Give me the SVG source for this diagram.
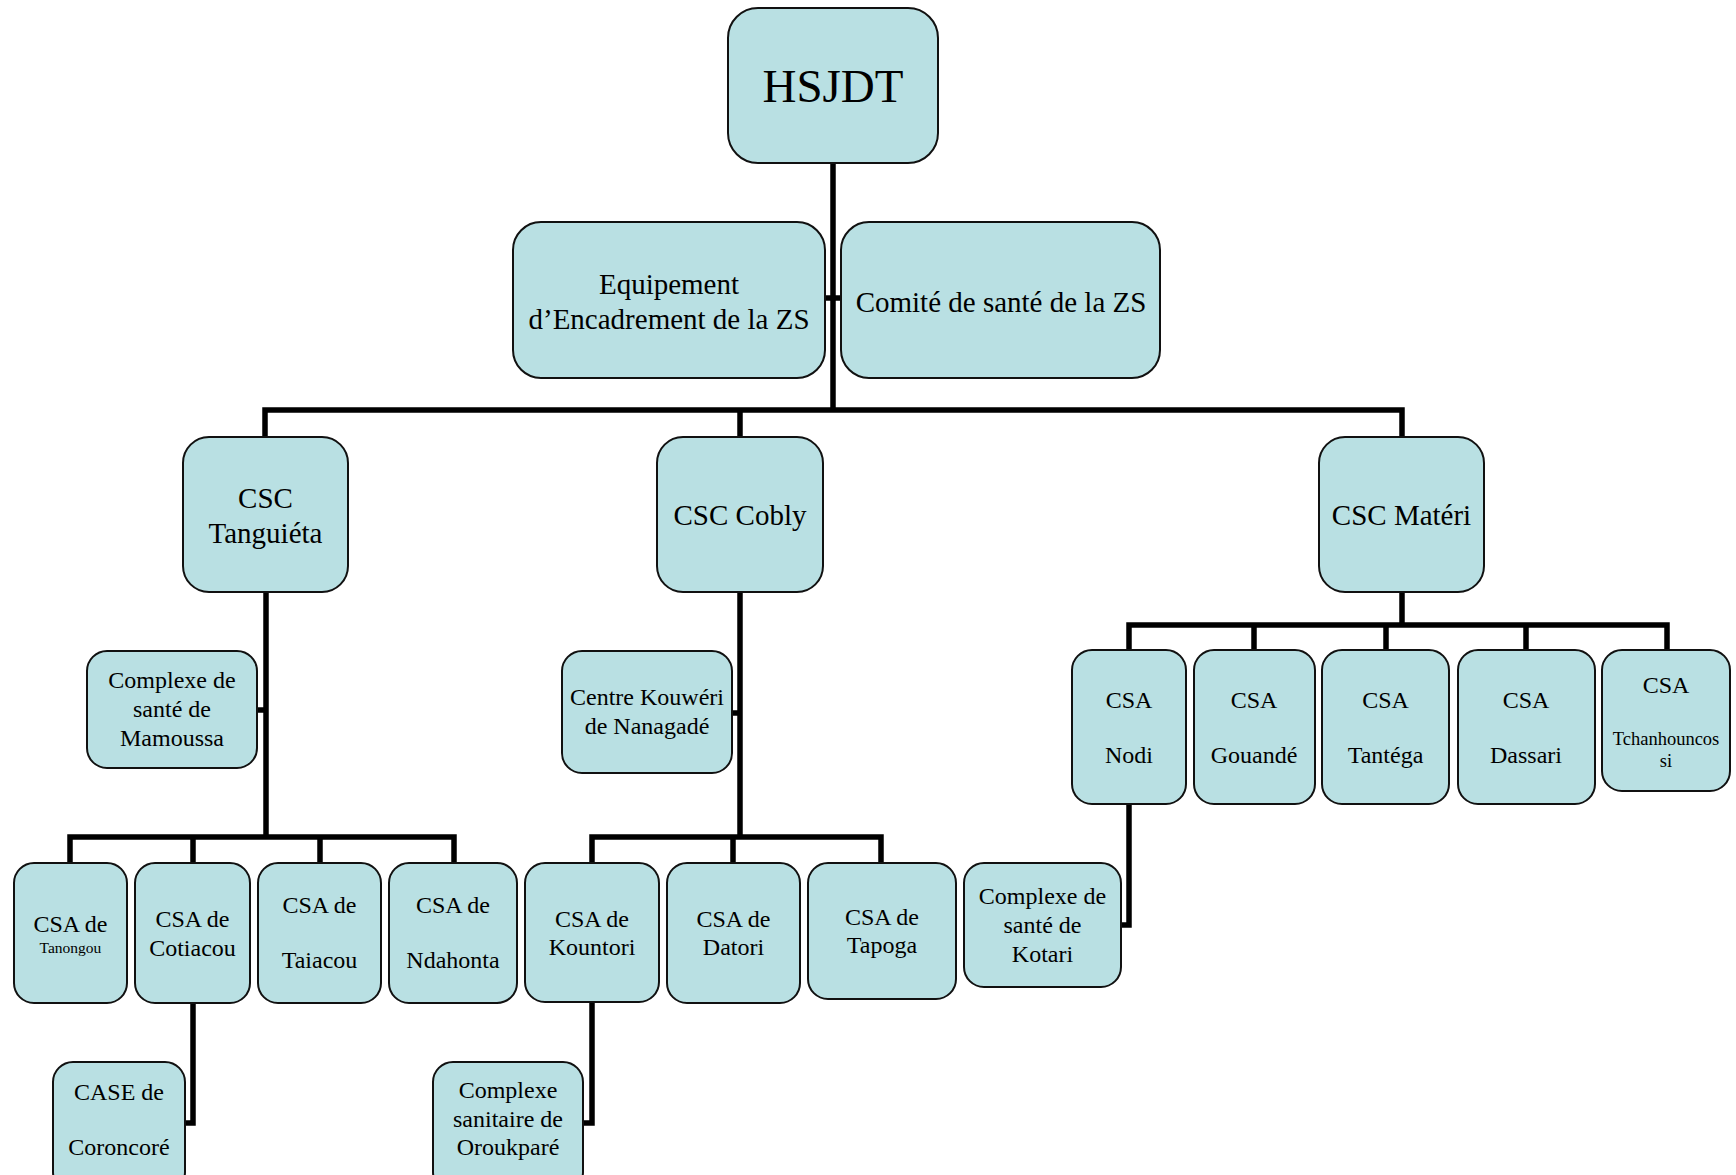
<svg xmlns="http://www.w3.org/2000/svg" width="1736" height="1175" viewBox="0 0 1736 1175">
<style>
.box{fill:#B9E0E3;stroke:#111;stroke-width:2}
.t{font-family:"Liberation Serif","Times New Roman",serif;fill:#000;text-anchor:middle}
.f29{font-size:29px}
.f24{font-size:24px}
.f18{font-size:18.5px}
.f15{font-size:15.5px}
.c{fill:none;stroke:#000;stroke-width:5.5;stroke-linecap:square;stroke-linejoin:miter}
</style>
<rect width="1736" height="1175" fill="#fff"/>
<g id="connectors">
<path class="c" d="M833 163V410M265 437V410H1402V437M740 410V437"/>
<path class="c" d="M826 298H841"/>
<path class="c" d="M266 592V837M70 863V837H454V863M193 837V863M320 837V863M258 710H266"/>
<path class="c" d="M193 1003V1123H186"/>
<path class="c" d="M740 592V837M592 863V837H881V863M733 837V863M733 713H740"/>
<path class="c" d="M592 1002V1123H584"/>
<path class="c" d="M1402 592V625M1129 650V625H1667V650M1254 625V650M1386 625V650M1526 625V650"/>
<path class="c" d="M1129 804V925H1121"/>
</g>
<g id="hsjdt"><rect class="box" x="728" y="8" width="210" height="155" rx="30"/><text class="t" x="833" y="102" font-size="47">HSJDT</text></g>
<g id="equipement"><rect class="box" x="513" y="222" width="312" height="156" rx="28"/><text class="t f29" x="669" y="294">Equipement</text><text class="t f29" x="669" y="329">d’Encadrement de la ZS</text></g>
<g id="comite"><rect class="box" x="841" y="222" width="319" height="156" rx="28"/><text class="t f29" x="1001" y="312">Comité de santé de la ZS</text></g>
<g id="csc-tanguieta"><rect class="box" x="183" y="437" width="165" height="155" rx="26"/><text class="t f29" x="265.5" y="508">CSC</text><text class="t f29" x="265.5" y="543">Tanguiéta</text></g>
<g id="csc-cobly"><rect class="box" x="657" y="437" width="166" height="155" rx="26"/><text class="t f29" x="740" y="525">CSC Cobly</text></g>
<g id="csc-materi"><rect class="box" x="1319" y="437" width="165" height="155" rx="26"/><text class="t f29" x="1401.5" y="525">CSC Matéri</text></g>
<g id="mamoussa"><rect class="box" x="87" y="651" width="170" height="117" rx="20"/><text class="t f24" x="172" y="688">Complexe de</text><text class="t f24" x="172" y="717">santé de</text><text class="t f24" x="172" y="746">Mamoussa</text></g>
<g id="kouweri"><rect class="box" x="562" y="651" width="170" height="122" rx="20"/><text class="t f24" x="647" y="705">Centre Kouwéri</text><text class="t f24" x="647" y="734">de Nanagadé</text></g>
<g id="nodi"><rect class="box" x="1072" y="650" width="114" height="154" rx="20"/><text class="t f24" x="1129" y="708">CSA</text><text class="t f24" x="1129" y="763">Nodi</text></g>
<g id="gouande"><rect class="box" x="1194" y="650" width="121" height="154" rx="20"/><text class="t f24" x="1254" y="708">CSA</text><text class="t f24" x="1254" y="763">Gouandé</text></g>
<g id="tantega"><rect class="box" x="1322" y="650" width="127" height="154" rx="20"/><text class="t f24" x="1385.5" y="708">CSA</text><text class="t f24" x="1385.5" y="763">Tantéga</text></g>
<g id="dassari"><rect class="box" x="1458" y="650" width="137" height="154" rx="20"/><text class="t f24" x="1526" y="708">CSA</text><text class="t f24" x="1526" y="763">Dassari</text></g>
<g id="tchanhouncossi"><rect class="box" x="1602" y="650" width="128" height="141" rx="20"/><text class="t f24" x="1666" y="693">CSA</text><text class="t f18" x="1666" y="745">Tchanhouncos</text><text class="t f18" x="1666" y="767">si</text></g>
<g id="tanongou"><rect class="box" x="14" y="863" width="113" height="140" rx="20"/><text class="t f24" x="70.5" y="932">CSA de</text><text class="t f15" x="70.5" y="953">Tanongou</text></g>
<g id="cotiacou"><rect class="box" x="135" y="863" width="115" height="140" rx="20"/><text class="t f24" x="192.5" y="927">CSA de</text><text class="t f24" x="192.5" y="956">Cotiacou</text></g>
<g id="taiacou"><rect class="box" x="258" y="863" width="123" height="140" rx="20"/><text class="t f24" x="319.5" y="913">CSA de</text><text class="t f24" x="319.5" y="968">Taiacou</text></g>
<g id="ndahonta"><rect class="box" x="389" y="863" width="128" height="140" rx="20"/><text class="t f24" x="453" y="913">CSA de</text><text class="t f24" x="453" y="968">Ndahonta</text></g>
<g id="kountori"><rect class="box" x="525" y="863" width="134" height="139" rx="20"/><text class="t f24" x="592" y="927">CSA de</text><text class="t f24" x="592" y="955">Kountori</text></g>
<g id="datori"><rect class="box" x="667" y="863" width="133" height="140" rx="20"/><text class="t f24" x="733.5" y="927">CSA de</text><text class="t f24" x="733.5" y="955">Datori</text></g>
<g id="tapoga"><rect class="box" x="808" y="863" width="148" height="136" rx="20"/><text class="t f24" x="882" y="925">CSA de</text><text class="t f24" x="882" y="953">Tapoga</text></g>
<g id="kotari"><rect class="box" x="964" y="863" width="157" height="124" rx="20"/><text class="t f24" x="1042.5" y="904">Complexe de</text><text class="t f24" x="1042.5" y="933">santé de</text><text class="t f24" x="1042.5" y="962">Kotari</text></g>
<g id="coroncore"><rect class="box" x="53" y="1062" width="132" height="130" rx="20"/><text class="t f24" x="119" y="1100">CASE de</text><text class="t f24" x="119" y="1155">Coroncoré</text></g>
<g id="oroukpare"><rect class="box" x="433" y="1062" width="150" height="130" rx="20"/><text class="t f24" x="508" y="1098">Complexe</text><text class="t f24" x="508" y="1127">sanitaire de</text><text class="t f24" x="508" y="1155">Oroukparé</text></g>
</svg>
